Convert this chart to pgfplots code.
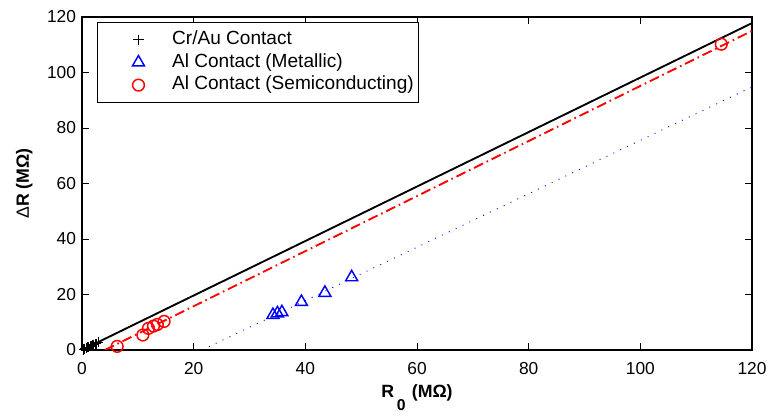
\documentclass[border=0pt]{standalone}
\usepackage{pgfplots}
\pgfplotsset{compat=1.18}
\usepackage{fontspec}
\setmainfont{Liberation Sans}
\begin{document}
\begin{tikzpicture}
\path[use as bounding box] (-61.5pt,-49.5pt) rectangle (516.75pt,262.5pt);
\begin{axis}[
  at={(0pt,0pt)}, anchor=south west,
  scale only axis, width=502.5pt, height=249.75pt,
  xmin=0, xmax=120, ymin=0, ymax=120,
  xtick={0,20,...,120}, ytick={0,20,...,120},
  tick align=inside, tick pos=both,
  major tick length=5.25pt,
  axis line style={line width=0.9pt},
  every tick/.style={line width=0.7pt, black},
  /pgf/number format/assume math mode=true,
  ticklabel style={font=\fontsize{13}{15}\selectfont},
  xticklabel style={anchor=north, yshift=-6pt},
  yticklabel style={anchor=east, xshift=-1pt},
  xlabel={\textbf{R\hspace{2pt}\raisebox{-9.5pt}{\fontsize{11.8}{12}\selectfont 0}\hspace{1pt} (MΩ)}},
  ylabel={{\mdseries Δ}\textbf{R (MΩ)}},
  label style={font=\fontsize{13.3}{15}\selectfont},
  xlabel style={at={(axis description cs:0.5,0)}, anchor=base, yshift=-36pt},
  ylabel style={at={(axis description cs:0,0.5)}, anchor=base, rotate=0, yshift=39.75pt},
  legend style={at={(0.0224,0.985)}, anchor=north west, draw=black, line width=0.7pt,
    font=\fontsize{14.3}{16}\selectfont, row sep=0pt, column sep=0pt,
    inner xsep=1.5pt, inner ysep=4.5pt,
    nodes={inner xsep=2pt, inner ysep=1.5pt, text height=10.5pt, text depth=3.5pt}},
  legend cell align=left,
  legend image code/.code={\path[draw=none,fill=none] (0pt,-5pt) rectangle (52.5pt,5pt); \draw[#1] plot coordinates {(29.25pt,0pt)};},
]
\addplot[black, only marks, mark=+, mark size=3.8pt, line width=1pt] coordinates {
(0.3,0.2) (0.8,0.7) (1.1,1.0) (1.6,1.4) (2.0,1.9) (2.5,2.3) (2.9,2.8) (0.5,0.4)
};
\addlegendentry{Cr/Au Contact}
\addplot[blue, only marks, mark=triangle, mark size=5.2pt, line width=1.1pt] coordinates {
(34.2,12.6) (35.0,13.2) (35.8,13.6) (39.3,17.3) (43.5,20.6) (48.3,26.2)
};
\addlegendentry{Al Contact (Metallic)}
\addplot[red, only marks, mark=o, mark size=4.4pt, line width=1.1pt] coordinates {
(6.3,1.3) (10.9,5.4) (11.9,7.8) (12.8,8.6) (13.5,9.2) (14.7,10.3) (114.5,110.2)
};
\addlegendentry{Al Contact (Semiconducting)}
\addplot[black, line width=1.4pt, forget plot] coordinates {(0,0) (120,117.8)};
\addplot[red, line width=1.4pt, dash pattern=on 7.5pt off 3pt on 1.2pt off 3pt, forget plot] coordinates {(4.1,0) (120,115)};
\addplot[blue, line width=0.7pt, dash pattern=on 0.7pt off 5pt, forget plot] coordinates {(21.5,0) (120,94.8)};
\end{axis}
\end{tikzpicture}
\end{document}
